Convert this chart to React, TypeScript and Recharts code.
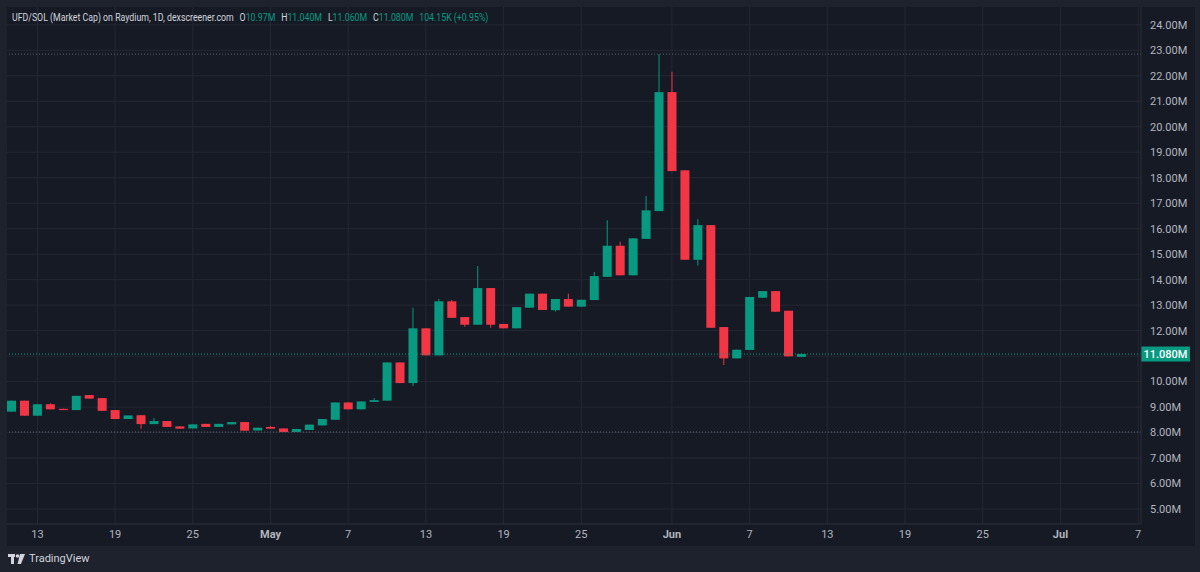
import React from 'react';
import { ComposedChart, Bar, XAxis, YAxis, CartesianGrid, ReferenceLine } from 'recharts';

const dates = [
  'Apr 11', 'Apr 12', 'Apr 13', 'Apr 14', 'Apr 15', 'Apr 16', 'Apr 17', 'Apr 18', 'Apr 19', 'Apr 20',
  'Apr 21', 'Apr 22', 'Apr 23', 'Apr 24', 'Apr 25', 'Apr 26', 'Apr 27', 'Apr 28', 'Apr 29', 'Apr 30',
  'May 1', 'May 2', 'May 3', 'May 4', 'May 5', 'May 6', 'May 7', 'May 8', 'May 9', 'May 10',
  'May 11', 'May 12', 'May 13', 'May 14', 'May 15', 'May 16', 'May 17', 'May 18', 'May 19', 'May 20',
  'May 21', 'May 22', 'May 23', 'May 24', 'May 25', 'May 26', 'May 27', 'May 28', 'May 29', 'May 30',
  'May 31', 'Jun 1', 'Jun 2', 'Jun 3', 'Jun 4', 'Jun 5', 'Jun 6', 'Jun 7', 'Jun 8', 'Jun 9',
  'Jun 10', 'Jun 11',
];

// market cap, millions
const opens = [
  8.82, 9.25, 8.66, 9.11, 8.93, 8.88, 9.47, 9.35, 8.88, 8.53,
  8.68, 8.33, 8.45, 8.24, 8.16, 8.34, 8.22, 8.32, 8.41, 8.08,
  8.22, 8.16, 8.02, 8.10, 8.28, 8.50, 9.18, 8.91, 9.20, 9.25,
  10.75, 9.94, 12.09, 11.03, 13.15, 12.53, 12.23, 13.67, 12.26, 12.09,
  12.90, 13.45, 12.80, 13.24, 12.94, 13.20, 14.11, 15.33, 14.17, 15.60,
  16.69, 21.36, 18.29, 14.78, 16.14, 12.14, 10.91, 11.24, 13.29, 13.55,
  12.78, 10.97,
];
const highs = [
  9.25, 9.25, 9.11, 9.15, 8.94, 9.44, 9.47, 9.35, 8.88, 8.67,
  8.68, 8.57, 8.45, 8.24, 8.32, 8.34, 8.34, 8.41, 8.41, 8.19,
  8.26, 8.16, 8.14, 8.31, 8.53, 9.18, 9.18, 9.22, 9.35, 10.75,
  10.75, 12.90, 12.09, 13.24, 13.20, 12.53, 14.53, 13.67, 12.26, 12.92,
  13.45, 13.45, 13.24, 13.45, 13.21, 14.30, 16.33, 15.49, 15.62, 17.28,
  22.85, 22.16, 18.29, 16.37, 16.14, 12.14, 11.25, 13.32, 13.55, 13.55,
  12.78, 11.11,
];
const lows = [
  8.82, 8.66, 8.66, 8.91, 8.88, 8.88, 9.33, 8.85, 8.53, 8.53,
  8.15, 8.33, 8.22, 8.15, 8.16, 8.22, 8.22, 8.32, 8.07, 8.08,
  8.15, 8.02, 8.02, 8.10, 8.28, 8.50, 8.91, 8.91, 9.20, 9.25,
  9.94, 9.82, 11.03, 11.03, 12.50, 12.15, 12.23, 12.11, 12.09, 12.09,
  12.90, 12.81, 12.75, 12.94, 12.94, 13.20, 14.11, 14.17, 14.17, 15.60,
  16.69, 18.26, 14.78, 14.55, 12.11, 10.65, 10.91, 11.24, 13.29, 12.74,
  10.99, 10.97,
];
const closes = [
  9.25, 8.66, 9.11, 8.91, 8.88, 9.44, 9.33, 8.85, 8.53, 8.67,
  8.33, 8.45, 8.22, 8.15, 8.32, 8.22, 8.34, 8.41, 8.07, 8.19,
  8.15, 8.02, 8.14, 8.31, 8.53, 9.18, 8.91, 9.22, 9.27, 10.75,
  9.94, 12.09, 11.03, 13.15, 12.50, 12.23, 13.67, 12.23, 12.09, 12.92,
  13.45, 12.81, 13.24, 12.94, 13.21, 14.14, 15.33, 14.17, 15.62, 16.72,
  21.36, 18.26, 14.78, 16.14, 12.11, 10.91, 11.25, 13.32, 13.55, 12.74,
  10.99, 11.08,
];

const tickDays = [2, 8, 14, 20, 26, 32, 38, 44, 51, 57, 63, 69, 75, 81, 87];
const tickLabels = ['13', '19', '25', 'May', '7', '13', '19', '25', 'Jun', '7', '13', '19', '25', 'Jul', '7'];
const priceTicks = [5, 6, 7, 8, 9, 10, 11, 12, 13, 14, 15, 16, 17, 18, 19, 20, 21, 22, 23, 24];

const lastPrice = 11.08;
const periodHigh = 22.85;
const periodLow = 8.02;

// header values as shown in the legend line
const ohlcKeys = ['O', 'H', 'L', 'C'];
const ohlcValues = ['10.97M', '11.040M', '11.060M', '11.080M'];
const change = '104.15K (+0.95%)';

const UP = '#089981';
const DOWN = '#f23645';
const FONT = 'Roboto, "DejaVu Sans", sans-serif';

const data = dates.map((d, i) => ({
  day: i,
  date: d,
  o: opens[i],
  h: highs[i],
  l: lows[i],
  c: closes[i],
  range: [lows[i], highs[i]],
}));

const Candle = (props: any) => {
  const { x, y, width, height, payload } = props;
  if (x == null || y == null) return null;
  const top = Math.min(y, y + height);
  const full = Math.abs(height);
  const span = payload.h - payload.l;
  const py = (v: number) => (span > 0 ? top + ((payload.h - v) / span) * full : top);
  const up = payload.c >= payload.o;
  const color = up ? UP : DOWN;
  const cx = x + width / 2;
  const bTop = py(Math.max(payload.o, payload.c));
  const bBot = py(Math.min(payload.o, payload.c));
  const bh = Math.max(1, bBot - bTop);
  return (
    <g>
      <line x1={cx} x2={cx} y1={top} y2={top + full} stroke={color} strokeWidth={1} />
      <rect x={x} y={bTop} width={width} height={bh} fill={color} />
    </g>
  );
};

const TimeTick = (props: any) => {
  const { x, y, payload } = props;
  const idx = tickDays.indexOf(payload.value);
  const label = idx >= 0 ? tickLabels[idx] : '';
  const bold = isNaN(Number(label));
  return (
    <text x={x} y={y} dy="0.71em" textAnchor="middle" fill="#b2b5be" fontSize={11} fontFamily={FONT} fontWeight={bold ? 700 : 400}>
      {label}
    </text>
  );
};

const PriceTag = (props: any) => {
  const vb = props.viewBox;
  if (!vb) return null;
  const x = vb.x + vb.width;
  return (
    <g>
      <rect x={x} y={vb.y - 7.5} width={49} height={15} fill={UP} />
      <text x={x + 24.5} y={vb.y + 4} textAnchor="middle" fill="#ffffff" fontSize={11} fontFamily={FONT} fontWeight={500}>
        {lastPrice.toFixed(3)}M
      </text>
    </g>
  );
};

// the last-price tag covers the nearby scale label
const priceLabel = (v: number) => (Math.abs(v - lastPrice) < 0.5 ? '' : v.toFixed(2) + 'M');

export default function App() {
  return (
    <div style={{ position: 'fixed', left: 0, top: 0, width: 1200, height: 572, background: '#1e222d', fontFamily: FONT, overflow: 'hidden' }}>
      <div style={{ position: 'absolute', left: 7, top: 7, width: 1188, height: 539, background: '#161a25' }}>
        <ComposedChart width={1188} height={539} data={data} margin={{ top: 0, right: 0, left: 0, bottom: 0 }}>
          <CartesianGrid stroke="#242834" horizontalValues={priceTicks} verticalValues={tickDays} />
          <XAxis
            dataKey="day"
            type="number"
            domain={[-0.347, 87.22]}
            ticks={tickDays}
            allowDataOverflow
            height={22}
            tickSize={0}
            tickMargin={6}
            axisLine={{ stroke: '#2a2e39' }}
            tickLine={false}
            tick={<TimeTick />}
            interval={0}
          />
          <YAxis
            orientation="right"
            type="number"
            domain={[4.41, 24.7]}
            ticks={priceTicks}
            allowDataOverflow
            width={54}
            tickSize={0}
            tickMargin={9}
            axisLine={{ stroke: '#2a2e39' }}
            tickLine={false}
            interval={0}
            tick={{ fill: '#b2b5be', fontSize: 11, fontFamily: FONT, textAnchor: 'start' }}
            tickFormatter={priceLabel}
          />
          <ReferenceLine y={periodHigh} stroke="#5d606b" strokeDasharray="1 2" />
          <ReferenceLine y={periodLow} stroke="#5d606b" strokeDasharray="1 2" />
          <Bar dataKey="range" barSize={9} shape={<Candle />} isAnimationActive={false} />
          <ReferenceLine y={lastPrice} stroke={UP} strokeDasharray="1 2" label={<PriceTag />} />
        </ComposedChart>
      </div>
      <div
        style={{
          position: 'absolute',
          left: 12,
          top: 11,
          fontSize: 10.5,
          color: '#d1d4dc',
          whiteSpace: 'nowrap',
          transform: 'scaleX(0.835)',
          transformOrigin: 'left top',
        }}
      >
        <span>UFD/SOL (Market Cap) on Raydium, 1D, dexscreener.com</span>
        {ohlcKeys.map((k, i) => (
          <span key={k} style={{ marginLeft: 7 }}>
            {k}
            <span style={{ color: UP }}>{ohlcValues[i]}</span>
          </span>
        ))}
        <span style={{ marginLeft: 7, color: UP }}>{change}</span>
      </div>
      <div style={{ position: 'absolute', left: 8, top: 552, display: 'flex', alignItems: 'center', color: '#d1d4dc', fontSize: 11 }}>
        <svg width={18} height={12} viewBox="0 0 18 12" style={{ marginRight: 3 }}>
          <rect x={0} y={1} width={7} height={3} fill="#d1d4dc" />
          <rect x={3} y={1} width={3} height={10} fill="#d1d4dc" />
          <circle cx={9.5} cy={3} r={1.8} fill="#d1d4dc" />
          <polygon points="12,1 17,1 13,11 9.5,11" fill="#d1d4dc" />
        </svg>
        TradingView
      </div>
    </div>
  );
}
